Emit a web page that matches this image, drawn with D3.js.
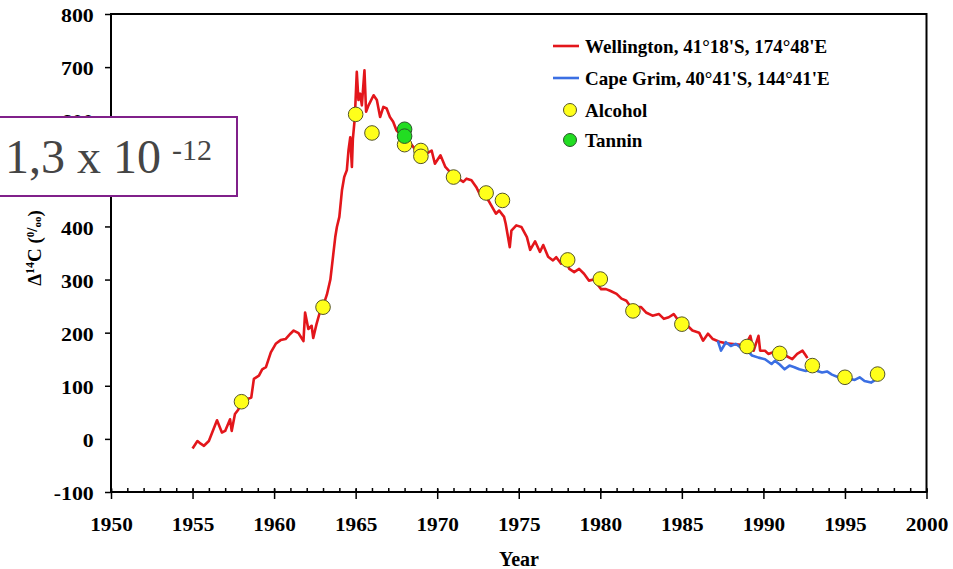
<!DOCTYPE html>
<html>
<head>
<meta charset="utf-8">
<script src="https://cdn.jsdelivr.net/npm/d3@7/dist/d3.min.js"></script>
<style>
  html, body { margin: 0; padding: 0; background: #fff; }
  svg { display: block; }
  svg text { font-family: "Liberation Serif", "Times New Roman", serif; }
</style>
</head>
<body>
<svg id="chart" width="953" height="569"></svg>
<script>
// Atmospheric radiocarbon (Δ14C, per mil) records and sample measurements

// Wellington series
const wellingtonYears = [
  1955.0, 1955.3, 1955.5, 1955.7, 1956.0, 1956.5, 1956.8, 1957.0, 1957.3, 1957.4,
  1957.6, 1957.8, 1958.0, 1958.3, 1958.6, 1958.76, 1959.07, 1959.27, 1959.5, 1959.8,
  1960.1, 1960.4, 1960.7, 1961.0, 1961.2, 1961.5, 1961.8, 1961.9, 1962.1, 1962.3,
  1962.4, 1962.6, 1962.8, 1963.0, 1963.24, 1963.45, 1963.6, 1963.75, 1963.85, 1964.0,
  1964.16, 1964.3, 1964.46, 1964.56, 1964.67, 1964.77, 1964.83, 1964.95, 1965.07, 1965.17,
  1965.28, 1965.38, 1965.54, 1965.64, 1965.79, 1966.1, 1966.3, 1966.5, 1966.7, 1966.9,
  1967.1, 1967.3, 1967.5, 1967.7, 1968.0, 1968.3, 1968.6, 1969.0, 1969.35, 1969.66,
  1969.86, 1970.2, 1970.5, 1971.0, 1971.3, 1971.6, 1971.8, 1972.1, 1972.4, 1972.7,
  1973.0, 1973.2, 1973.6, 1973.8, 1974.1, 1974.2, 1974.45, 1974.55, 1974.85, 1975.16,
  1975.5, 1975.7, 1976.0, 1976.3, 1976.5, 1976.8, 1977.1, 1977.3, 1977.6, 1977.9,
  1978.1, 1978.4, 1978.7, 1979.0, 1979.3, 1979.6, 1980.05, 1980.35, 1980.6, 1981.0,
  1981.3, 1981.6, 1981.9, 1982.2, 1982.5, 1982.8, 1983.2, 1983.6, 1983.9, 1984.2,
  1984.5, 1984.9, 1985.35, 1985.65, 1986.06, 1986.3, 1986.6, 1986.9, 1987.3, 1987.7,
  1988.3, 1988.9, 1989.2, 1989.4, 1989.7, 1989.8, 1990.1, 1990.3, 1990.6, 1990.95,
  1991.35, 1991.77, 1992.07, 1992.4, 1992.6, 1992.7
];
const wellingtonValues = [
  -18, -4, -9, -13, -4, 35, 12, 15, 37, 15,
  47, 55, 68, 74, 78, 113, 119, 131, 135, 163,
  179, 186, 188, 198, 204, 199, 184, 238, 207, 213,
  190, 216, 238, 250, 272, 300, 340, 380, 399, 418,
  468, 493, 506, 543, 568, 512, 565, 605, 691, 638,
  650, 628, 694, 616, 628, 647, 638, 606, 625, 622,
  606, 597, 581, 575, 562, 559, 547, 538, 537, 543,
  518, 534, 512, 495, 490, 484, 490, 487, 474, 455,
  455, 446, 424, 430, 418, 405, 361, 392, 402, 399,
  380, 356, 372, 352, 365, 343, 336, 342, 330, 334,
  320, 314, 320, 311, 298, 300, 282, 282, 279, 273,
  264, 260, 247, 248, 248, 238, 232, 235, 226, 229,
  235, 218, 213, 204, 200, 185, 198, 188, 183, 180,
  178, 176, 194, 166, 194, 166, 166, 160, 163, 161,
  157, 150, 160, 166, 157, 152
];

// Cape Grim series
const capeGrimYears = [
  1987.2, 1987.4, 1987.7, 1988.0, 1988.3, 1988.6, 1988.9, 1989.3, 1989.7, 1990.1,
  1990.5, 1990.7, 1991.0, 1991.3, 1991.6, 1991.9, 1992.2, 1992.6, 1992.95, 1993.3,
  1993.6, 1993.9, 1994.2, 1994.6, 1995.0, 1995.3, 1995.6, 1995.9, 1996.2, 1996.6,
  1996.86
];
const capeGrimValues = [
  185, 166, 182, 175, 179, 172, 170, 157, 153, 150,
  141, 147, 140, 131, 138, 135, 131, 128, 132, 128,
  125, 127, 121, 116, 117, 113, 111, 116, 109, 106,
  111
];

// Alcohol samples
const alcoholYears = [1958, 1963, 1965, 1966, 1968, 1969, 1969, 1971, 1973, 1974,
                      1978, 1980, 1982, 1985, 1989, 1991, 1993, 1995, 1997];
const alcoholValues = [70, 248, 611, 576, 554, 543, 532, 493, 463, 449,
                       337, 301, 241, 216, 174, 161, 138, 116, 122];

// Tannin samples
const tanninYears = [1968, 1968];
const tanninValues = [583, 570];

// Axis ticks
const xMajorTicks = [1950, 1955, 1960, 1965, 1970, 1975, 1980, 1985, 1990, 1995, 2000];
const xMinorTicks = d3.range(1950, 2001, 1);
const yTicks = [-100, 0, 100, 200, 300, 400, 500, 600, 700, 800];

// Legend entries
const legendLabels = ["Wellington, 41°18'S, 174°48'E", "Cape Grim, 40°41'S, 144°41'E", "Alcohol", "Tannin"];

const RED = "#e3161b";
const BLUE = "#3b6fe3";
const YELLOW = "#ffff1a";
const GREEN = "#22dd22";
const SERIF = "'Liberation Serif', 'Times New Roman', serif";

const svg = d3.select("#chart");
const plot = { left: 111, right: 926.5, top: 14, bottom: 492 };

const x = d3.scaleLinear().domain([1950, 2000]).range([plot.left, plot.right]);
const y = d3.scaleLinear().domain([-100, 800]).range([plot.bottom, plot.top]);

// Frame
svg.append("rect")
  .attr("x", plot.left).attr("y", plot.top)
  .attr("width", plot.right - plot.left).attr("height", plot.bottom - plot.top)
  .attr("fill", "none").attr("stroke", "#000").attr("stroke-width", 2);

const tickFont = g => {
  g.attr("font-family", SERIF);
  g.selectAll("text")
    .style("font-family", SERIF)
    .attr("font-weight", "bold").attr("font-size", 19).attr("fill", "#000");
};

// Y axis
const yAxis = svg.append("g")
  .attr("transform", `translate(${plot.left},0)`)
  .call(d3.axisLeft(y).tickValues(yTicks).tickSize(6).tickFormat(d3.format("d")));
yAxis.select(".domain").remove();
yAxis.selectAll("line").attr("stroke", "#000").attr("stroke-width", 1.5);
yAxis.call(tickFont);
yAxis.selectAll("text")
  .attr("x", -15).attr("dy", "0.4em")
  .attr("transform", "scale(1.15,1)")
  .text(d => d < 0 ? "-" + Math.abs(d) : d);

// X axis: minor ticks pointing inward
const xMinor = svg.append("g")
  .attr("transform", `translate(0,${plot.bottom})`)
  .call(d3.axisBottom(x).tickValues(xMinorTicks).tickSize(-4).tickFormat(""));
xMinor.select(".domain").remove();
xMinor.selectAll("line").attr("stroke", "#000").attr("stroke-width", 1.5);

// X axis: major ticks crossing the axis
const xAxis = svg.append("g")
  .attr("transform", `translate(0,${plot.bottom})`)
  .call(d3.axisBottom(x).tickValues(xMajorTicks).tickSize(7).tickFormat(d3.format("d")));
xAxis.select(".domain").remove();
xAxis.selectAll("line").attr("y1", -3).attr("stroke", "#000").attr("stroke-width", 1.5);
xAxis.call(tickFont);
xAxis.selectAll("text")
  .attr("x", 0).attr("y", 39).attr("dy", null)
  .attr("transform", "scale(1.12,1)");

// Axis titles
svg.append("text")
  .attr("x", 519).attr("y", 566)
  .attr("text-anchor", "middle")
  .attr("font-weight", "bold").attr("font-size", 20)
  .text("Year");

const yTitle = svg.append("text")
  .attr("transform", "translate(41,248) rotate(-90)")
  .attr("text-anchor", "middle")
  .attr("font-weight", "bold").attr("font-size", 19);
yTitle.append("tspan").text("Δ");
yTitle.append("tspan").attr("font-size", 12).attr("dy", -7).text("14");
yTitle.append("tspan").attr("dy", 7).text("C (");
yTitle.append("tspan").attr("font-size", 11).attr("dy", -7).text("0");
yTitle.append("tspan").attr("font-size", 15).attr("dy", 3).text("/");
yTitle.append("tspan").attr("font-size", 11).attr("dy", 4).text("oo");
yTitle.append("tspan").attr("dy", 0).text(")");

// Series lines
const line = d3.line().x(d => x(d[0])).y(d => y(d[1]));
const wellington = d3.zip(wellingtonYears, wellingtonValues);
const capeGrim = d3.zip(capeGrimYears, capeGrimValues);

svg.append("path").datum(wellington)
  .attr("d", line).attr("fill", "none")
  .attr("stroke", RED).attr("stroke-width", 2.6).attr("stroke-linejoin", "round");
svg.append("path").datum(capeGrim)
  .attr("d", line).attr("fill", "none")
  .attr("stroke", BLUE).attr("stroke-width", 2.6).attr("stroke-linejoin", "round");

// Sample points
svg.append("g").selectAll("circle")
  .data(d3.zip(alcoholYears, alcoholValues))
  .join("circle")
  .attr("cx", d => x(d[0])).attr("cy", d => y(d[1])).attr("r", 7.3)
  .attr("fill", YELLOW).attr("stroke", "#55552a").attr("stroke-width", 1);

svg.append("g").selectAll("circle")
  .data(d3.zip(tanninYears, tanninValues))
  .join("circle")
  .attr("cx", d => x(d[0])).attr("cy", d => y(d[1])).attr("r", 7.3)
  .attr("fill", GREEN).attr("stroke", "#2a552a").attr("stroke-width", 1);

// Legend
const legend = svg.append("g");
const rowY = [46, 78, 110, 140];
legend.append("line").attr("x1", 553).attr("x2", 579).attr("y1", rowY[0]).attr("y2", rowY[0])
  .attr("stroke", RED).attr("stroke-width", 2.6);
legend.append("line").attr("x1", 553).attr("x2", 579).attr("y1", rowY[1]).attr("y2", rowY[1])
  .attr("stroke", BLUE).attr("stroke-width", 2.6);
legend.append("circle").attr("cx", 570).attr("cy", rowY[2]).attr("r", 6.5)
  .attr("fill", YELLOW).attr("stroke", "#55552a").attr("stroke-width", 1);
legend.append("circle").attr("cx", 570).attr("cy", rowY[3]).attr("r", 6.5)
  .attr("fill", GREEN).attr("stroke", "#2a552a").attr("stroke-width", 1);
legend.selectAll("text.lbl")
  .data(legendLabels)
  .join("text")
  .attr("class", "lbl")
  .attr("x", 585)
  .attr("y", (d, i) => rowY[i] + 7)
  .attr("font-weight", "bold").attr("font-size", 19)
  .text(d => d);

// Annotation box drawn over the axis
const note = svg.append("g");
note.append("rect")
  .attr("x", -2).attr("y", 117).attr("width", 239).attr("height", 79)
  .attr("fill", "#fff").attr("stroke", "#80208a").attr("stroke-width", 2);
const noteText = note.append("text")
  .attr("x", 5).attr("y", 173)
  .attr("font-size", 48).attr("fill", "#454545");
noteText.append("tspan").text("1,3 x 10");
noteText.append("tspan").attr("font-size", 30).attr("dx", 11).attr("dy", -13).text("-12");
</script>
</body>
</html>
